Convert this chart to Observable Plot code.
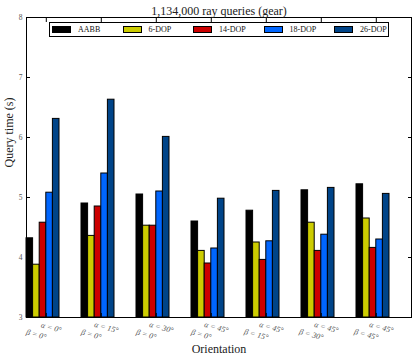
<!DOCTYPE html>
<html>
<head>
<meta charset="utf-8">
<script src="https://cdn.jsdelivr.net/npm/d3@7"></script>
<script src="https://cdn.jsdelivr.net/npm/@observablehq/plot@0.6"></script>
<style>
  body { margin: 0; background: #fff; }
  #wrap { position: relative; width: 417px; height: 360px; font-family: "Liberation Serif", serif; }
  #legend { position: absolute; left: 49px; top: 22px; width: 338px; height: 13px; border: 1px solid #000; background: #fff; }
  .entry { position: absolute; top: 0; height: 13px; display: flex; align-items: center; font-size: 8px; color: #111; white-space: nowrap; }
  .sw { width: 17px; height: 5px; border: 1px solid #000; margin-right: 7px; flex: none; }
</style>
</head>
<body>
<div id="wrap"></div>
<script>
const categories = ["a0b0", "a15b0", "a30b0", "a45b0", "a45b15", "a45b30", "a45b45"];
const alphaLabels = ["α = 0°", "α = 15°", "α = 30°", "α = 45°", "α = 45°", "α = 45°", "α = 45°"];
const betaLabels = ["β = 0°", "β = 0°", "β = 0°", "β = 0°", "β = 15°", "β = 30°", "β = 45°"];
const series = ["AABB", "6-DOP", "14-DOP", "18-DOP", "26-DOP"];
const colors = ["#000000", "#cccc00", "#cc0000", "#0066ff", "#004488"];
const AABB   = [4.32, 4.90, 5.05, 4.60, 4.78, 5.12, 5.22];
const DOP6   = [3.88, 4.36, 4.53, 4.11, 4.25, 4.58, 4.65];
const DOP14  = [4.58, 4.85, 4.53, 3.90, 3.96, 4.11, 4.16];
const DOP18  = [5.08, 5.40, 5.10, 4.15, 4.27, 4.38, 4.30];
const DOP26  = [6.31, 6.63, 6.01, 4.98, 5.11, 5.16, 5.06];
const values = [AABB, DOP6, DOP14, DOP18, DOP26];
const yTicks = [3, 4, 5, 6, 7, 8];
const title = "1,134,000 ray queries (gear)";
const xLabel = "Orientation";
const yLabel = "Query time (s)";

const barW = 0.12;
const tickOff = 0.36;
const rows = [];
categories.forEach((c, i) => {
  series.forEach((s, j) => {
    rows.push({cat: c, series: s, x1: i + j * barW, x2: i + (j + 1) * barW, v: values[j][i]});
  });
});
const cats = categories.map((c, i) => ({cat: c, pos: i + tickOff, alpha: alphaLabels[i], beta: betaLabels[i]}));
const tickPos = cats.map(d => d.pos);

const chart = Plot.plot({
  width: 417,
  height: 360,
  marginLeft: 26,
  marginRight: 6,
  marginTop: 17,
  marginBottom: 43,
  style: {fontFamily: "Liberation Serif, serif", background: "#fff"},
  x: {domain: [0, 7], axis: null},
  y: {domain: [3, 8], axis: null},
  color: {domain: series, range: colors},
  marks: [
    Plot.rect(rows, {x1: "x1", x2: "x2", y1: 3, y2: "v", fill: "series", stroke: "#000", strokeWidth: 1}),
    Plot.axisY(yTicks, {anchor: "left", tickSize: -4, tickPadding: 8, tickFormat: d3.format("d"), fontSize: 7.5, fill: "#555", label: null}),
    Plot.axisY(yTicks, {anchor: "right", tickSize: -4, tickFormat: () => "", label: null}),
    Plot.axisX(tickPos, {anchor: "top", tickSize: -4, tickFormat: () => "", label: null}),
    Plot.axisX(tickPos, {anchor: "bottom", tickSize: -4, tickFormat: () => "", label: null}),
    Plot.frame({stroke: "#000", strokeWidth: 1}),
    Plot.text(cats, {x: "pos", y: 3, text: "alpha", dx: 5, dy: 10, rotate: 15, fontSize: 8, fill: "#555", fontStyle: "italic"}),
    Plot.text(cats, {x: "pos", y: 3, text: "beta", dx: -10, dy: 17, rotate: 15, fontSize: 8, fill: "#555", fontStyle: "italic"}),
    Plot.text([title], {frameAnchor: "top", dy: -11, text: d => d, fontSize: 12, fill: "#222"}),
    Plot.text([xLabel], {frameAnchor: "bottom", dy: 35, text: d => d, fontSize: 12, fill: "#222"}),
    Plot.text([yLabel], {frameAnchor: "left", dx: -17, rotate: -90, text: d => d, fontSize: 12, fill: "#222"})
  ]
});

const wrap = document.getElementById("wrap");
wrap.appendChild(chart);
const legend = document.createElement("div");
legend.id = "legend";
series.forEach((s, j) => {
  const e = document.createElement("div");
  e.className = "entry";
  e.style.left = (2 + j * 70.5) + "px";
  const sw = document.createElement("div");
  sw.className = "sw";
  sw.style.background = colors[j];
  e.appendChild(sw);
  const t = document.createElement("span");
  t.textContent = s;
  e.appendChild(t);
  legend.appendChild(e);
});
wrap.appendChild(legend);
</script>
</body>
</html>
